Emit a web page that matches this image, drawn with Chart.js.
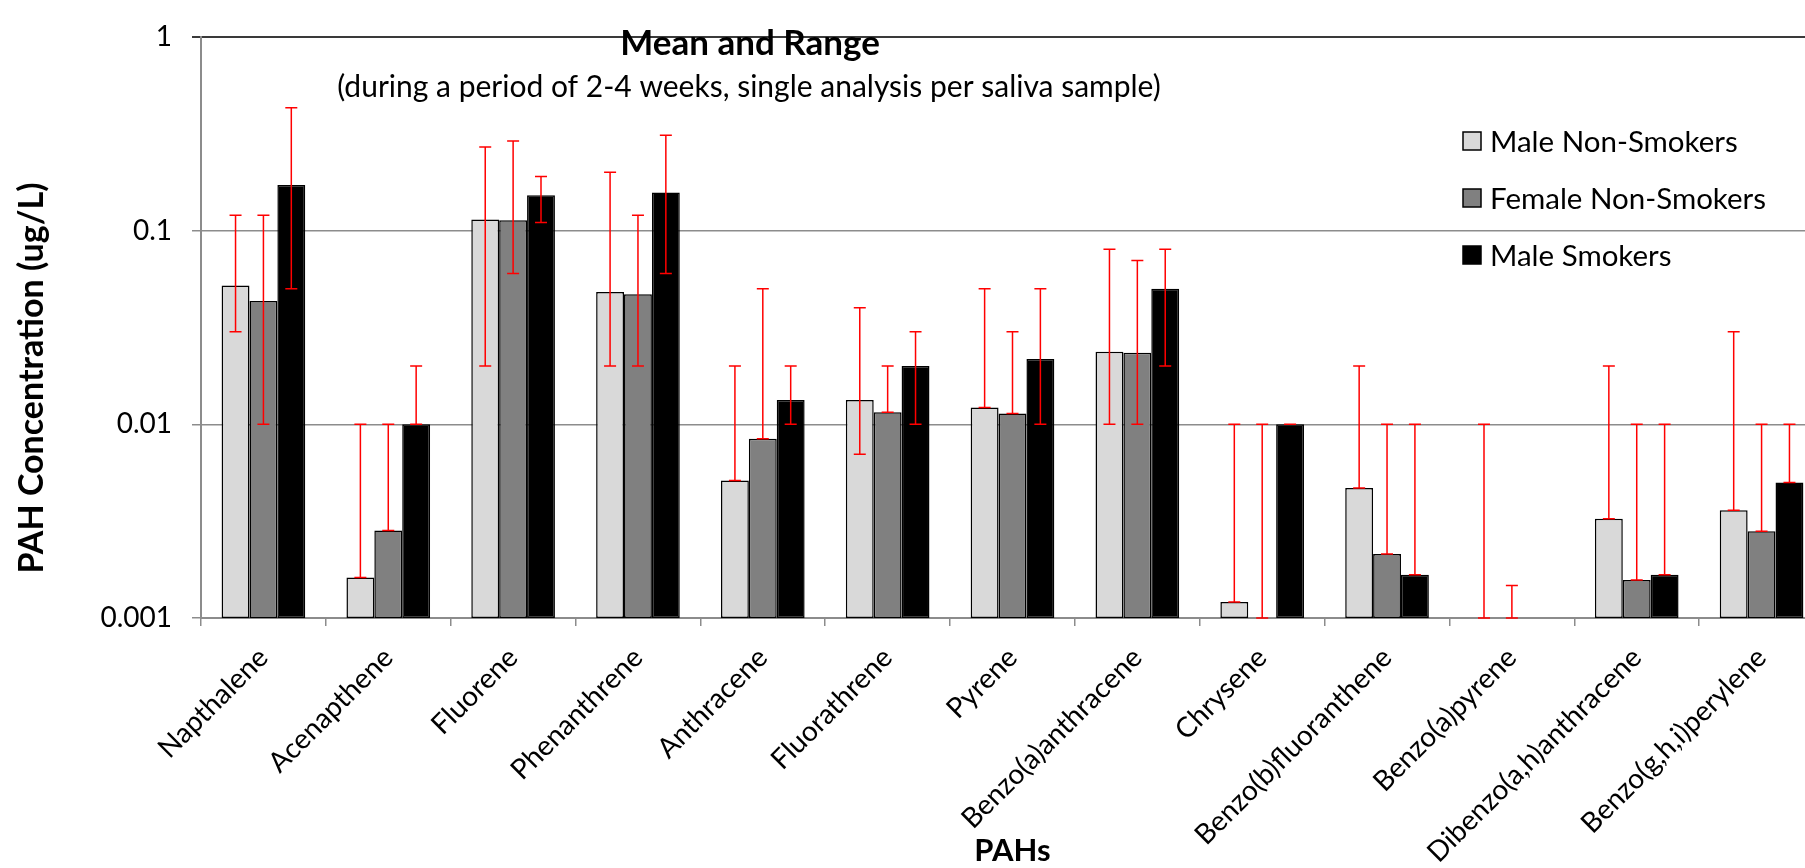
<!DOCTYPE html>
<html>
<head>
<meta charset="utf-8">
<script src="https://cdn.jsdelivr.net/npm/chart.js@4.4.1/dist/chart.umd.min.js"></script>
<style>
  html, body { margin: 0; padding: 0; background: #fff; overflow: hidden; }
  #frame { width: 1805px; height: 868px; overflow: hidden; position: relative; }
  /* the original chart is cut off on the right, so the canvas is a bit wider than the page */
  #wrap { width: 1824px; height: 868px; position: absolute; left: 0; top: 0; }
</style>
</head>
<body>
<div id="frame"><div id="wrap"><canvas id="myChart"></canvas></div></div>
<script>
// categories (PAHs)
const categories = ['Napthalene', 'Acenapthene', 'Fluorene', 'Phenanthrene', 'Anthracene',
  'Fluorathrene', 'Pyrene', 'Benzo(a)anthracene', 'Chrysene', 'Benzo(b)fluoranthene',
  'Benzo(a)pyrene', 'Dibenzo(a,h)anthracene', 'Benzo(g,h,i)perylene'];

const seriesNames = ['Male Non-Smokers', 'Female Non-Smokers', 'Male Smokers'];

// means (ug/L)
const maleNonSmokers   = [0.052, 0.00162, 0.114, 0.0482, 0.00513, 0.01334, 0.01221, 0.0237, 0.00121, 0.00469, 0.001, 0.00325, 0.0036];
const femaleNonSmokers = [0.0433, 0.00283, 0.113, 0.0469, 0.00841, 0.01153, 0.01136, 0.0234, 0.001, 0.00214, 0.001, 0.00157, 0.0028];
const maleSmokers      = [0.172, 0.01, 0.152, 0.157, 0.01334, 0.02, 0.0217, 0.05, 0.01, 0.00167, null, 0.00167, 0.005];

// ranges (min / max)
const maleNonSmokersMin   = [0.03, 0.00162, 0.02, 0.02, 0.00513, 0.007, 0.01221, 0.01, 0.00121, 0.00469, 0.001, 0.00325, 0.0036];
const maleNonSmokersMax   = [0.12, 0.01, 0.27, 0.2, 0.02, 0.04, 0.05, 0.08, 0.01, 0.02, 0.01, 0.02, 0.03];
const femaleNonSmokersMin = [0.01, 0.00283, 0.06, 0.02, 0.00841, 0.01153, 0.01136, 0.01, 0.001, 0.00214, 0.001, 0.00157, 0.0028];
const femaleNonSmokersMax = [0.12, 0.01, 0.29, 0.12, 0.05, 0.02, 0.03, 0.07, 0.01, 0.01, 0.00147, 0.01, 0.01];
const maleSmokersMin      = [0.05, 0.01, 0.11, 0.06, 0.01, 0.01, 0.01, 0.02, 0.01, 0.00167, null, 0.00167, 0.005];
const maleSmokersMax      = [0.43, 0.02, 0.19, 0.31, 0.02, 0.03, 0.05, 0.08, 0.01, 0.01, null, 0.01, 0.01];

// y axis ticks
const yTicks = [0.001, 0.01, 0.1, 1];
const yTickLabels = ['0.001', '0.01', '0.1', '1'];

const chartTitle = 'Mean and Range';
const chartSubtitle = '(during a period of 2-4 weeks, single analysis per saliva sample)';
const yAxisTitle = 'PAH Concentration (ug/L)';
const xAxisTitle = 'PAHs';

Chart.defaults.font.family = 'Lato';
Chart.defaults.color = '#000';

// red min/max bars drawn on top of the bars
const errorBars = {
  id: 'errorBars',
  afterDatasetsDraw(chart) {
    const ctx = chart.ctx;
    const y = chart.scales.y;
    chart.data.datasets.forEach((ds, i) => {
      const meta = chart.getDatasetMeta(i);
      meta.data.forEach((bar, j) => {
        const lo = ds.rangeMin[j], hi = ds.rangeMax[j];
        if (lo == null || hi == null) return;
        const x = bar.x;
        const yLo = y.getPixelForValue(lo);
        const yHi = y.getPixelForValue(hi);
        ctx.save();
        ctx.strokeStyle = '#ff0000';
        ctx.lineWidth = 1.5;
        ctx.beginPath();
        ctx.moveTo(x, yLo); ctx.lineTo(x, yHi);
        ctx.moveTo(x - 6, yHi); ctx.lineTo(x + 6, yHi);
        ctx.moveTo(x - 6, yLo); ctx.lineTo(x + 6, yLo);
        ctx.stroke();
        ctx.restore();
      });
    });
  }
};

// title text box, y axis title and legend
const overlay = {
  id: 'overlay',
  afterDraw(chart) {
    const ctx = chart.ctx;
    ctx.save();
    ctx.fillStyle = '#000';
    ctx.textAlign = 'center';
    ctx.textBaseline = 'middle';
    ctx.font = 'bold 35px Lato';
    ctx.fillText(chartTitle, 750, 44);
    ctx.font = '30px Lato';
    ctx.fillText(chartSubtitle, 749, 87);

    // y axis title (sits a bit lower than the plot centre in the original)
    ctx.save();
    ctx.translate(32, 378);
    ctx.rotate(-Math.PI / 2);
    ctx.font = 'bold 34px Lato';
    ctx.fillText(yAxisTitle, 0, 0);
    ctx.restore();

    ctx.textAlign = 'left';
    ctx.font = '29.5px Lato';
    chart.data.datasets.forEach((ds, i) => {
      const cy = 141 + i * 57;
      ctx.fillStyle = ds.backgroundColor;
      ctx.fillRect(1463, cy - 9, 18, 18);
      ctx.strokeStyle = '#000';
      ctx.lineWidth = 1.5;
      ctx.strokeRect(1463, cy - 9, 18, 18);
      ctx.fillStyle = '#000';
      ctx.fillText(ds.label, 1490, cy + 1);
    });
    ctx.restore();
  }
};

const whiteBg = {
  id: 'whiteBg',
  beforeDraw(chart) {
    const ctx = chart.ctx;
    ctx.save();
    ctx.fillStyle = '#fff';
    ctx.fillRect(0, 0, chart.width, chart.height);
    ctx.restore();
  }
};

function makeDataset(label, data, mins, maxs, fill) {
  return {
    label: label,
    data: data,
    rangeMin: mins,
    rangeMax: maxs,
    backgroundColor: fill,
    borderColor: '#000',
    borderWidth: 1.5,
    borderSkipped: false,
    categoryPercentage: 0.67,
    barPercentage: 1.0,
  };
}

const ctx = document.getElementById('myChart').getContext('2d');
const chart = new Chart(ctx, {
  type: 'bar',
  data: {
    labels: categories,
    datasets: [
      makeDataset(seriesNames[0], maleNonSmokers, maleNonSmokersMin, maleNonSmokersMax, '#d9d9d9'),
      makeDataset(seriesNames[1], femaleNonSmokers, femaleNonSmokersMin, femaleNonSmokersMax, '#808080'),
      makeDataset(seriesNames[2], maleSmokers, maleSmokersMin, maleSmokersMax, '#000000'),
    ],
  },
  options: {
    responsive: true,
    maintainAspectRatio: false,
    animation: false,
    layout: { padding: { top: 20, left: 0, right: 0, bottom: 0 } },
    plugins: {
      legend: { display: false },
      tooltip: { enabled: false },
    },
    scales: {
      x: {
        afterFit(scale) { scale.height = 250; },
        grid: {
          display: true,
          drawOnChartArea: false,
          drawTicks: true,
          tickLength: 8,
          color: '#8c8c8c',
          lineWidth: 1.5,
          offset: true,
        },
        border: { display: true, color: '#8c8c8c', width: 2 },
        ticks: {
          autoSkip: false,
          minRotation: 45,
          maxRotation: 45,
          padding: 15,
          font: { size: 28 },
          color: '#000',
        },
        title: {
          display: true,
          text: xAxisTitle,
          font: { size: 31, weight: 'bold', lineHeight: 1.1 },
          padding: { top: 0, bottom: 0 },
          color: '#000',
        },
      },
      y: {
        type: 'logarithmic',
        min: 0.001,
        max: 1,
        afterFit(scale) { scale.width = 201; },
        afterBuildTicks(scale) { scale.ticks = yTicks.map(v => ({ value: v })); },
        grid: {
          color: c => (c.tick && c.tick.value === 1 ? '#3a3a3a' : '#8c8c8c'),
          lineWidth: c => (c.tick && c.tick.value === 1 ? 2 : 1.5),
          tickLength: 9,
        },
        border: { display: true, color: '#8c8c8c', width: 2 },
        ticks: {
          padding: 20,
          font: { size: 28 },
          color: '#000',
          callback: v => {
            const k = yTicks.indexOf(v);
            return k >= 0 ? yTickLabels[k] : '';
          },
        },
        title: { display: false },
      },
    },
  },
  plugins: [whiteBg, errorBars, overlay],
});
</script>
</body>
</html>
